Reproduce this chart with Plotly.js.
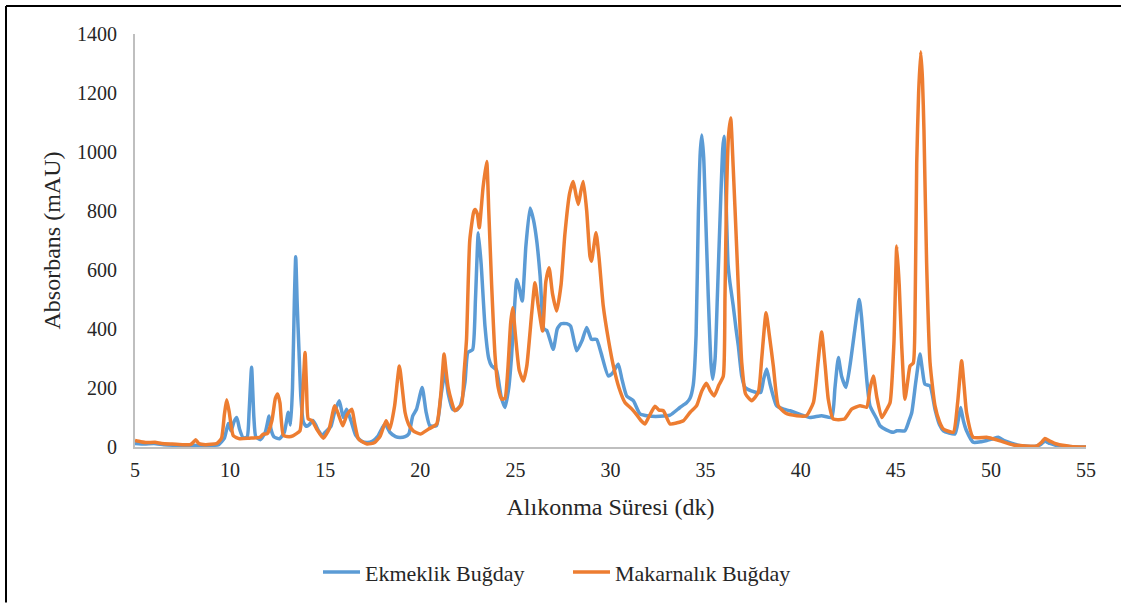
<!DOCTYPE html>
<html>
<head>
<meta charset="utf-8">
<script src="https://cdn.plot.ly/plotly-3.0.1.min.js"></script>
<style>
  html, body { margin: 0; padding: 0; background: #fff; }
  #chart { width: 1121px; height: 604px; }
</style>
</head>
<body>
<div id="chart"></div>
<script>
// Retention time (dk) and absorbance (mAU)
const timeEkmeklik = [5.0,5.5,6.0,6.5,7.0,7.5,8.0,8.5,9.0,9.4,9.7,9.9,10.05,10.2,10.35,10.5,10.7,10.9,11.0,11.13,11.25,11.35,11.6,11.85,12.05,12.15,12.3,12.6,12.85,13.06,13.18,13.28,13.38,13.45,13.53,13.62,13.72,13.85,14.0,14.15,14.35,14.5,14.65,14.85,15.0,15.3,15.5,15.74,15.95,16.13,16.35,16.6,16.9,17.2,17.5,17.75,18.0,18.15,18.4,18.7,18.93,19.2,19.4,19.6,19.8,20.1,20.3,20.5,20.85,21.1,21.3,21.47,21.7,21.9,22.1,22.35,22.5,22.75,22.9,23.05,23.2,23.4,23.6,23.75,24.0,24.25,24.45,24.65,24.8,24.98,25.07,25.2,25.36,25.55,25.77,25.95,26.12,26.3,26.5,26.65,26.99,27.2,27.4,27.7,27.9,28.22,28.5,28.75,29.0,29.27,29.5,29.88,30.1,30.41,30.6,30.85,31.2,31.55,32.0,32.6,33.13,33.65,34.0,34.18,34.35,34.5,34.62,34.72,34.8,34.9,34.97,35.14,35.28,35.37,35.5,35.62,35.8,35.9,35.97,36.07,36.18,36.28,36.45,36.6,36.72,36.9,37.07,37.4,37.69,37.9,38.05,38.21,38.4,38.73,39.1,39.44,40.0,40.49,41.1,41.63,41.8,41.98,42.15,42.38,42.6,42.85,43.08,43.2,43.47,43.64,44.0,44.17,44.5,44.87,45.05,45.48,45.7,45.84,46.05,46.27,46.4,46.53,46.8,47.06,47.3,47.5,48.11,48.28,48.41,48.55,48.72,49.07,49.5,49.78,50.1,50.39,50.7,51.0,51.5,52.3,52.6,52.84,53.1,53.46,54.0,55.0];
const absEkmeklik = [12,10,12,8,6,5,6,5,5,8,30,80,55,85,100,60,30,35,120,270,100,35,25,50,105,60,35,28,50,118,75,200,500,645,480,330,170,85,70,75,90,75,55,40,50,70,120,157,100,128,90,40,20,15,20,35,65,78,50,35,32,35,45,105,128,202,120,72,72,180,253,180,128,125,140,220,320,330,500,726,620,410,300,275,262,170,134,200,310,500,568,540,495,680,810,770,700,580,400,395,331,400,418,418,410,326,360,405,365,365,320,241,250,281,230,173,157,112,105,104,108,134,150,165,210,380,790,1000,1058,980,850,512,286,230,300,512,850,1010,1053,850,620,557,480,400,343,240,202,190,185,185,230,264,210,140,128,123,110,100,106,100,200,303,240,202,280,400,500,440,230,140,95,72,58,50,55,55,90,117,220,315,260,213,207,128,75,55,44,90,134,90,55,16,18,22,28,33,22,15,5,2,8,20,12,5,2,0];

const timeMakarnalik = [5.0,5.3,5.6,6.05,6.4,6.9,7.5,7.9,8.05,8.19,8.35,8.7,9.3,9.55,9.7,9.82,9.95,10.17,10.5,11.0,11.57,11.75,11.95,12.2,12.38,12.5,12.62,12.8,13.1,13.3,13.67,13.8,13.94,14.02,14.11,14.3,14.55,14.9,15.2,15.5,15.7,15.92,16.15,16.4,16.55,16.75,17.2,17.6,17.9,18.2,18.4,18.65,18.9,19.05,19.2,19.4,19.63,20.0,20.44,20.86,21.07,21.25,21.35,21.47,21.82,22.17,22.3,22.43,22.6,22.8,22.88,23.0,23.1,23.3,23.49,23.6,23.75,23.93,24.1,24.28,24.45,24.6,24.75,24.86,25.0,25.2,25.42,25.6,25.86,26.03,26.2,26.43,26.6,26.77,26.95,27.17,27.4,27.6,27.85,28.04,28.2,28.31,28.45,28.57,28.75,28.92,29.0,29.24,29.4,29.62,29.9,30.15,30.45,30.76,31.1,31.37,31.6,31.81,32.0,32.34,32.55,32.78,33.13,33.5,33.83,34.18,34.53,34.8,35.04,35.25,35.45,35.7,35.93,36.02,36.1,36.2,36.32,36.45,36.63,36.78,36.9,37.1,37.42,37.77,37.95,38.18,38.35,38.56,38.82,39.2,39.79,40.3,40.67,40.9,41.1,41.28,41.45,41.71,42.3,42.68,43.12,43.47,43.65,43.82,44.0,44.26,44.5,44.7,44.9,45.05,45.18,45.31,45.48,45.62,45.75,45.92,46.02,46.1,46.2,46.31,46.4,46.48,46.62,46.8,47.06,47.3,47.5,48.02,48.25,48.46,48.6,48.72,49.07,49.78,50.1,50.48,51.18,52.4,52.65,52.84,53.1,53.46,54.2,55.0];
const absMakarnalik = [22,18,15,16,12,10,8,8,15,25,12,8,12,30,110,160,120,38,28,30,33,44,45,90,165,180,150,40,35,38,55,150,320,200,95,90,61,30,60,140,110,72,110,128,80,27,10,15,38,89,61,140,275,200,117,75,55,44,61,78,173,315,260,200,123,145,250,365,700,795,805,790,743,880,968,800,550,309,200,162,165,260,420,472,380,260,224,275,455,557,480,393,560,608,520,461,550,720,860,900,850,822,870,900,800,647,630,726,640,478,360,275,200,151,130,110,90,78,100,138,125,123,78,82,89,117,140,190,216,190,173,210,240,512,850,1050,1115,950,681,450,286,180,157,185,300,455,380,275,140,115,106,106,151,280,390,280,162,95,95,128,140,135,200,241,170,100,125,151,350,681,550,343,162,220,275,285,500,963,1200,1340,1250,1075,625,286,140,85,61,50,150,292,200,117,33,33,28,21,7,3,15,29,20,10,2,0];

const seriesNames = ["Ekmeklik Buğday", "Makarnalık Buğday"];
const xTicks = [5,10,15,20,25,30,35,40,45,50,55];
const yTicks = [0,200,400,600,800,1000,1200,1400];

const fontFamily = 'Liberation Serif';
const textColor = '#262626';

const traces = [
  { x: timeEkmeklik, y: absEkmeklik, name: seriesNames[0], type: 'scatter', mode: 'lines',
    line: { color: '#5B9BD5', width: 3.5, shape: 'spline', smoothing: 0.5 } },
  { x: timeMakarnalik, y: absMakarnalik, name: seriesNames[1], type: 'scatter', mode: 'lines',
    line: { color: '#ED7D31', width: 3.5, shape: 'spline', smoothing: 0.5 } }
];

const layout = {
  width: 1121, height: 604,
  margin: { l: 135, r: 35, t: 34, b: 156 },
  paper_bgcolor: '#fff', plot_bgcolor: '#fff',
  font: { family: fontFamily, color: textColor, size: 20 },
  showlegend: true,
  legend: { orientation: 'h', x: (318 - 135) / 951, xanchor: 'left', y: -0.3, yanchor: 'middle',
            itemwidth: 37, entrywidth: 198, entrywidthmode: 'pixels',
            font: { family: fontFamily, size: 22, color: textColor } },
  xaxis: {
    range: [5, 55], tickvals: xTicks, ticktext: xTicks.map(String),
    showgrid: false, zeroline: false, showline: true, linecolor: '#BFBFBF', linewidth: 2,
    ticks: '', ticklabelstandoff: 4, tickfont: { family: fontFamily, size: 20, color: textColor },
    title: { text: 'Alıkonma Süresi (dk)', font: { family: fontFamily, size: 24, color: textColor }, standoff: 18 },
    automargin: false, fixedrange: true
  },
  yaxis: {
    range: [0, 1400], tickvals: yTicks, ticktext: yTicks.map(String),
    showgrid: false, zeroline: false, showline: true, linecolor: '#BFBFBF', linewidth: 2,
    ticks: '', ticklabelstandoff: 12, tickfont: { family: fontFamily, size: 20, color: textColor },
    title: { text: 'Absorbans (mAU)', font: { family: fontFamily, size: 24, color: textColor }, standoff: 10 },
    automargin: false, fixedrange: true
  },
  shapes: [
    { type: 'line', xref: 'paper', yref: 'paper', x0: (6 - 135) / 951, x1: (1121 - 135) / 951,
      y0: (448 - 6) / 414, y1: (448 - 6) / 414, line: { color: '#000', width: 2 } },
    { type: 'line', xref: 'paper', yref: 'paper', x0: (6 - 135) / 951, x1: (6 - 135) / 951,
      y0: (448 - 6) / 414, y1: (448 - 604) / 414, line: { color: '#000', width: 2 } }
  ]
};

Plotly.newPlot('chart', traces, layout, { displayModeBar: false, staticPlot: true });
</script>
</body>
</html>
